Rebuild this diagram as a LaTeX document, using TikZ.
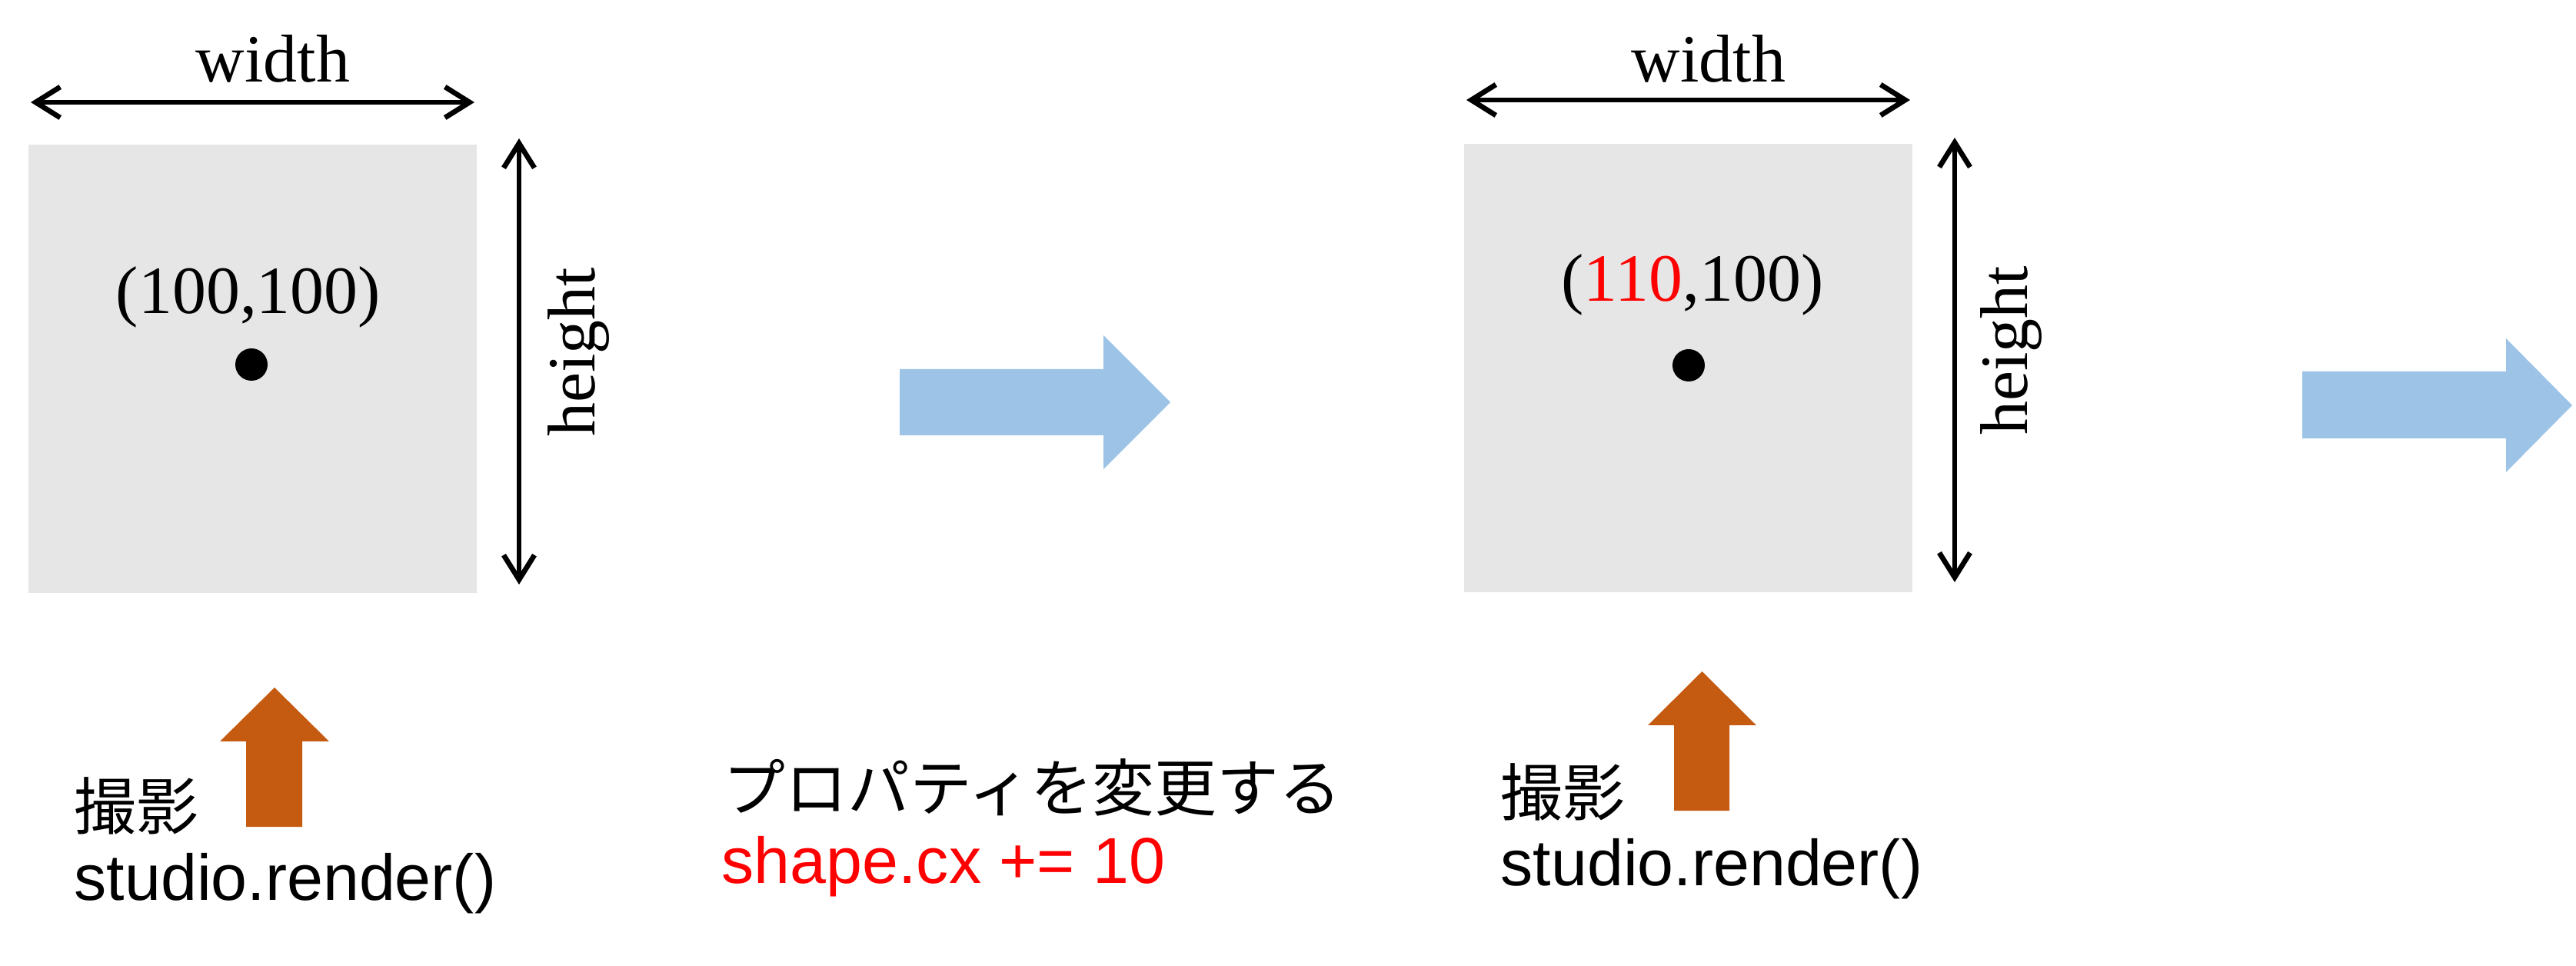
\documentclass[tikz,border=0pt]{standalone}
\usepackage{fontspec}
\setmainfont{Liberation Serif}
\setsansfont{Liberation Sans}
\newfontfamily\jpfont{Noto Sans CJK JP}
\usetikzlibrary{arrows.meta,positioning}
\definecolor{boxgray}{RGB}{230,230,230}
\definecolor{flowblue}{RGB}{157,195,230}
\definecolor{shotorange}{RGB}{197,90,17}
\tikzstyle{canvas} = [rectangle, fill=boxgray, minimum size=5.83cm, inner sep=0pt]
\tikzstyle{dimline} = [draw, line width=1.9pt, {Straight Barb[length=0.32cm,width=0.4cm]}-{Straight Barb[length=0.32cm,width=0.4cm]}]
\tikzstyle{lbl} = [inner sep=0pt, font=\fontsize{25}{30}\selectfont]
\tikzstyle{codetext} = [inner sep=0pt, font=\sffamily\fontsize{24}{29}\selectfont]
\tikzstyle{jptext} = [inner sep=0pt, font=\jpfont\fontsize{23}{28}\selectfont]
\tikzset{
  flowarrow/.style={fill=flowblue},
  shotarrow/.style={fill=shotorange},
  centerdot/.style={circle, fill=black, minimum size=0.42cm, inner sep=0pt}
}
\begin{document}
\begin{tikzpicture}
  \useasboundingbox (0,0) rectangle (33.5,12.55);

  %%%%%%%%%%%%%%%%%%%%%%%%%%%%%%%%%%%%%%%%%%%%%%%%%%%%%%%%%%%%%%
  %                    FIRST SHOT                              %
  %%%%%%%%%%%%%%%%%%%%%%%%%%%%%%%%%%%%%%%%%%%%%%%%%%%%%%%%%%%%%%

  \node [canvas] (canvas-a) at (3.285,7.75) {};
  \node [centerdot] (dot-a) at (3.27,7.81) {};
  \node [lbl] (pos-a) at (3.23,8.69) {(100,100)};

  \coordinate (wl-a) at (0.40,11.22);
  \coordinate (wr-a) at (6.17,11.22);
  \draw [dimline] (wl-a) -- (wr-a);
  \node [lbl] (width-a) at (3.55,11.79) {width};

  \coordinate (ht-a) at (6.75,10.75);
  \coordinate (hb-a) at (6.75,4.95);
  \draw [dimline] (ht-a) -- (hb-a);
  \node [lbl, rotate=90] (height-a) at (7.52,7.97) {height};

  \fill [shotarrow] (3.20,1.80) -- (3.93,1.80) -- (3.93,2.91) -- (4.28,2.91)
    -- (3.57,3.61) -- (2.86,2.91) -- (3.20,2.91) -- cycle;
  \node [jptext, anchor=west] (shoot-a) at (0.96,2.07) {撮影};
  \node [codetext, anchor=base west] (render-a) at (0.96,0.85) {studio.render()};

  %%%%%%%%%%%%%%%%%%%%%%%%%%%%%%%%%%%%%%%%%%%%%%%%%%%%%%%%%%%%%%
  %                    CHANGE PROPERTY                         %
  %%%%%%%%%%%%%%%%%%%%%%%%%%%%%%%%%%%%%%%%%%%%%%%%%%%%%%%%%%%%%%

  \fill [flowarrow] (11.70,6.89) -- (14.35,6.89) -- (14.35,6.45) -- (15.22,7.32)
    -- (14.35,8.19) -- (14.35,7.75) -- (11.70,7.75) -- cycle;
  \node [jptext, anchor=west] (change) at (9.40,2.31) {プロパティを変更する};
  \node [codetext, anchor=base west, text=red] (change-code) at (9.38,1.07) {shape.cx += 10};

  %%%%%%%%%%%%%%%%%%%%%%%%%%%%%%%%%%%%%%%%%%%%%%%%%%%%%%%%%%%%%%
  %                    SECOND SHOT                             %
  %%%%%%%%%%%%%%%%%%%%%%%%%%%%%%%%%%%%%%%%%%%%%%%%%%%%%%%%%%%%%%

  \node [canvas] (canvas-b) at (21.955,7.765) {};
  \node [centerdot] (dot-b) at (21.96,7.80) {};
  \node [lbl] (pos-b) at (22.01,8.85) {(\textcolor{red}{110},100)};

  \coordinate (wl-b) at (19.07,11.25);
  \coordinate (wr-b) at (24.84,11.25);
  \draw [dimline] (wl-b) -- (wr-b);
  \node [lbl] (width-b) at (22.22,11.79) {width};

  \coordinate (ht-b) at (25.42,10.76);
  \coordinate (hb-b) at (25.42,4.98);
  \draw [dimline] (ht-b) -- (hb-b);
  \node [lbl, rotate=90] (height-b) at (26.15,7.99) {height};

  \fill [shotarrow] (21.77,2.01) -- (22.49,2.01) -- (22.49,3.12) -- (22.84,3.12)
    -- (22.135,3.82) -- (21.43,3.12) -- (21.77,3.12) -- cycle;
  \node [jptext, anchor=west] (shoot-b) at (19.51,2.25) {撮影};
  \node [codetext, anchor=base west] (render-b) at (19.51,1.04) {studio.render()};

  \fill [flowarrow] (29.94,6.85) -- (32.59,6.85) -- (32.59,6.41) -- (33.45,7.28)
    -- (32.59,8.15) -- (32.59,7.72) -- (29.94,7.72) -- cycle;

\end{tikzpicture}
\end{document}
